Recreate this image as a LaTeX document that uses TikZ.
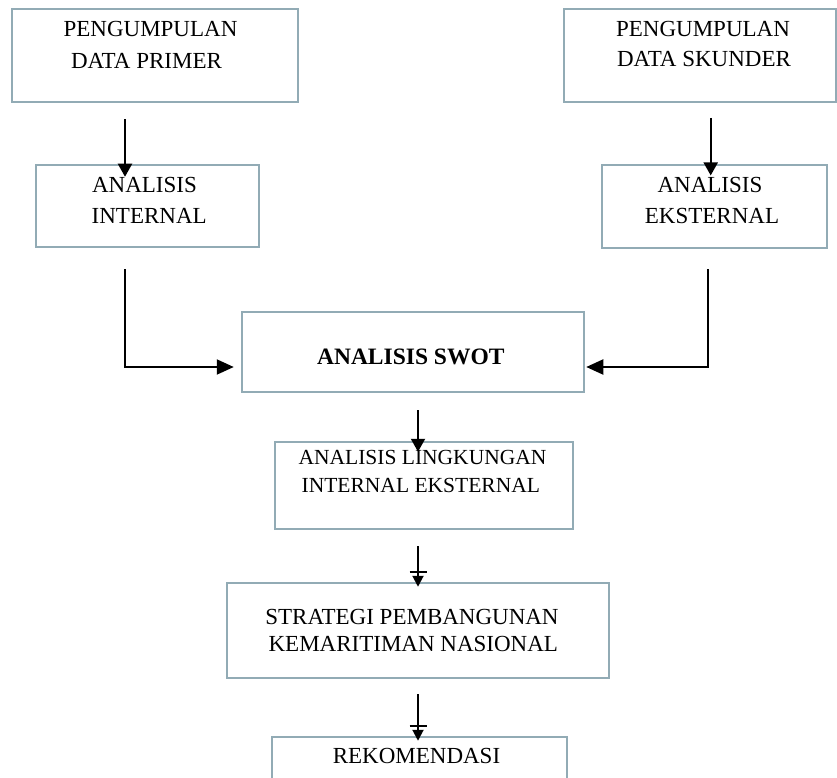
\documentclass[tikz,border=0pt]{standalone}
\usepackage{fontspec}
\setmainfont{Liberation Serif}
\usetikzlibrary{arrows.meta}
\definecolor{boxline}{RGB}{146,171,181}
\tikzset{
  box/.style={draw=boxline, line width=2.5pt, rectangle, inner sep=0pt, fill=none},
  txt/.style={anchor=base, inner sep=0pt, font=\fontsize{23}{27}\selectfont},
  txtsm/.style={anchor=base, inner sep=0pt, font=\fontsize{21.5}{26}\selectfont},
  txtb/.style={anchor=base, inner sep=0pt, font=\fontsize{23.5}{28}\selectfont\bfseries},
  arr/.style={draw=black, line width=2pt, -{Triangle[width=14pt,length=13pt]}},
  arrs/.style={draw=black, line width=2pt, -{Triangle[width=11pt,length=11pt]}},
  barline/.style={draw=black, line width=2pt}
}
\begin{document}
\begin{tikzpicture}[x=1pt,y=-1pt]
\useasboundingbox (0,0) rectangle (837,778);
\clip (0,0) rectangle (837,778);
% boxes
\node[box, minimum width=286pt, minimum height=93pt] (p1) at (155,55.5) {};
\node[box, minimum width=272pt, minimum height=93pt] (p2) at (700,55.5) {};
\node[box, minimum width=223pt, minimum height=82pt] (ai) at (147.5,206) {};
\node[box, minimum width=225pt, minimum height=83pt] (ae) at (714.5,206.5) {};
\node[box, minimum width=342pt, minimum height=80pt] (swot) at (413,352) {};
\node[box, minimum width=298pt, minimum height=87pt] (lk) at (424,485.5) {};
\node[box, minimum width=382pt, minimum height=95pt] (st) at (418,630.5) {};
\node[box, minimum width=295pt, minimum height=126pt] (rk) at (419.5,800) {};
% texts
\node[txt] (p1a) at (150.5,36.7) {PENGUMPULAN};
\node[txt] (p1b) at (146.5,68.3) {DATA PRIMER};
\node[txt] (p2a) at (703,36.7) {PENGUMPULAN};
\node[txt] (p2b) at (704,66.7) {DATA SKUNDER};
\node[txt] (aia) at (144.5,193) {ANALISIS};
\node[txt] (aib) at (149.2,223) {INTERNAL};
\node[txt] (aea) at (710,193) {ANALISIS};
\node[txt] (aeb) at (712,223) {EKSTERNAL};
\node[txtb] (swt) at (410.8,364) {ANALISIS SWOT};
\node[txtsm] (lka) at (422.5,464) {ANALISIS LINGKUNGAN};
\node[txtsm] (lkb) at (420.8,492) {INTERNAL EKSTERNAL};
\node[txt] (sta) at (412,624) {STRATEGI PEMBANGUNAN};
\node[txt] (stb) at (413.3,651) {KEMARITIMAN NASIONAL};
\node[txt] (rkt) at (416.5,763) {REKOMENDASI};
% connectors
\draw[arr] ([xshift=-30pt,yshift=-16pt]p1.south) -- ([xshift=-22.5pt,yshift=-13pt]ai.north);
\draw[arr] ([xshift=10.7pt,yshift=-14.7pt]p2.south) -- ([xshift=-3.8pt,yshift=-11.7pt]ae.north);
\draw[arr, -{Triangle[width=15pt,length=17pt]}] ([xshift=-22.5pt,yshift=-21pt]ai.south) |- ([xshift=-7pt,yshift=-15pt]swot.west);
\draw[arr, -{Triangle[width=15pt,length=17pt]}] ([xshift=-6.5pt,yshift=-20pt]ae.south) |- ([xshift=1pt,yshift=-15pt]swot.east);
\draw[arr] ([xshift=5pt,yshift=-17pt]swot.south) -- ([xshift=-6pt,yshift=-11pt]lk.north);
\draw[arrs] ([xshift=-6pt,yshift=-16pt]lk.south) -- ([yshift=-5pt]st.north);
\draw[barline] ([xshift=-8.5pt,yshift=10pt]st.north) -- ([xshift=8.5pt,yshift=10pt]st.north);
\draw[arrs] ([yshift=-15pt]st.south) -- ([xshift=-1.5pt,yshift=-5pt]rk.north);
\draw[barline] ([xshift=-10pt,yshift=10pt]rk.north) -- ([xshift=7pt,yshift=10pt]rk.north);
\end{tikzpicture}
\end{document}
